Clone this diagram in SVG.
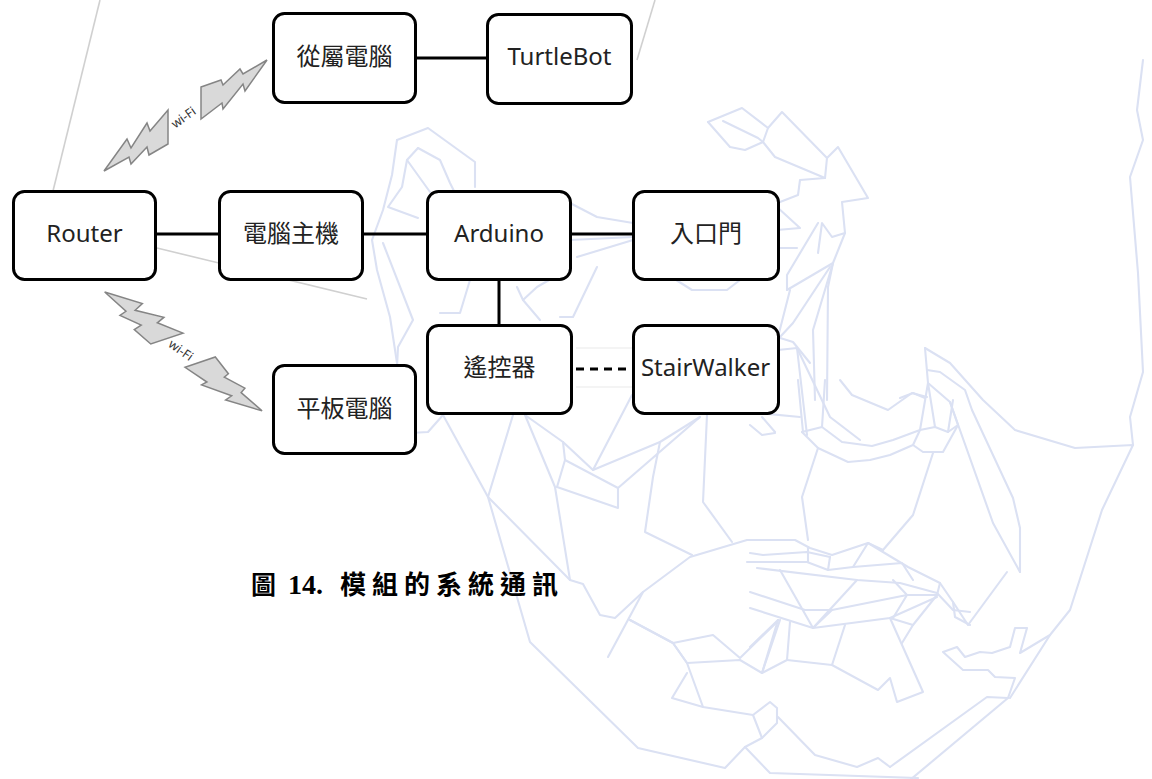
<svg xmlns="http://www.w3.org/2000/svg" xmlns:xlink="http://www.w3.org/1999/xlink" width="1152" height="779" viewBox="0 0 1152 779">
  <style>
    .wm { fill: none; stroke: #dbe1f3; stroke-width: 2.1; stroke-linejoin: round; stroke-linecap: round; }
    .gl { fill: none; stroke: #d0d0d0; stroke-width: 1.6; }
    .node rect { fill: #ffffff; stroke: #000000; stroke-width: 3; }
    .node text { font-family: "Noto Sans", "Noto Sans CJK TC", sans-serif; font-size: 24px; fill: #222222; text-anchor: middle; }
    .link { stroke: #000000; stroke-width: 3; fill: none; }
    .bolt { fill: #d9d9d9; stroke: #858585; stroke-width: 1.5; stroke-linejoin: miter; }
    .wifi { font-family: "Noto Sans", sans-serif; font-size: 12.5px; fill: #333333; text-anchor: middle; }
    .cap { font-weight: bold; fill: #000000; }
  </style>
  <defs>
    <!-- two-part lightning link with label, drawn along the upper route -->
    <g id="wifi-link">
      <path class="bolt" d="M104,171 L127,139 L131,148 L147,123 L150,131 L168,110 L168,144 L149,155 L147,147 L131,164 L129,157 Z"/>
      <path class="bolt" d="M201,87 L221,80 L223,85 L240,69 L243,74 L267,60 L245,91 L243,84 L223,109 L222,103 L201,119 Z"/>
      <text class="wifi" transform="translate(186,121) rotate(-36)">wi-Fi</text>
    </g>
  </defs>

  <rect width="1152" height="779" fill="#ffffff"/>

  <!-- low-poly face in the background -->
  <g id="background-face" class="wm">
    <polyline points="397,140 428,128 475,162 475,187"/>
    <polyline points="397,140 392,175 383,210 372,240 377,270 390,317 397,363"/>
    <polyline points="418,148 407,160 402,187 388,207 418,218"/>
    <polyline points="418,148 440,160 450,183 455,193"/>
    <polyline points="407,160 430,192"/>
    <polyline points="383,243 413,320 398,347 397,367"/>
    <polyline points="470,280 460,313 440,313"/>
    <polyline points="570,203 597,217 633,223"/>
    <polyline points="570,240 633,237"/>
    <polyline points="577,257 633,240"/>
    <polyline points="517,287 523,300 537,287 570,268"/>
    <polyline points="523,300 540,320"/>
    <polyline points="560,317 573,317 597,267"/>
    <polyline points="673,278 692,290 727,290 740,280"/>
    <polyline points="708,122 742,108 768,128"/>
    <polyline points="708,122 730,147 745,150 763,142 768,128 782,112 827,158"/>
    <polyline points="723,121 758,138 763,142"/>
    <polyline points="763,142 775,157 825,178 800,180 798,195 780,202"/>
    <polyline points="825,178 827,158 838,147 868,198 842,202 845,233 832,237 822,223 818,253"/>
    <polyline points="777,207 800,228 777,230"/>
    <polyline points="777,248 797,248"/>
    <polyline points="787,290 833,263"/>
    <polyline points="787,290 787,275 818,223"/>
    <polyline points="845,233 833,263 828,287 827,400"/>
    <polyline points="833,263 813,330 815,400"/>
    <polyline points="780,337 793,323 830,267"/>
    <polyline points="790,290 778,337"/>
    <polyline points="778,350 797,348 807,435"/>
    <polyline points="797,348 830,417 860,440"/>
    <polyline points="777,337 793,342 810,363"/>
    <polyline points="1143,60 1137,110 1143,140 1130,177 1138,273 1143,372 1130,417 1133,445"/>
    <polyline points="925,348 950,363 983,400 1015,430 1075,448 1133,445 1102,510 1070,610 1050,635 1010,698"/>
    <polyline points="927,370 940,372 965,390 972,410 1013,498 1020,528 1020,572"/>
    <polyline points="925,348 928,383 950,402 993,523 1020,572"/>
    <polyline points="900,398 913,393 925,398"/>
    <polyline points="410,433 428,432 443,415 488,497"/>
    <polyline points="513,415 488,497"/>
    <polyline points="488,497 530,642 638,748 725,768 745,747 762,738 777,723 777,708 770,702 753,715 703,707 687,663 673,643 630,620"/>
    <polyline points="753,715 762,738"/>
    <polyline points="488,497 570,580 583,584 600,615 615,618 643,592 690,557 747,540 795,540 810,548 832,555 868,543 883,550"/>
    <polyline points="525,415 555,487 570,580"/>
    <polyline points="525,415 563,442 565,460 557,487"/>
    <polyline points="557,487 618,508 618,488 700,417"/>
    <polyline points="563,442 593,470 660,442 700,417"/>
    <polyline points="593,470 632,395"/>
    <polyline points="565,460 618,488"/>
    <polyline points="707,415 703,502 732,542"/>
    <polyline points="660,442 653,477 645,532 692,555"/>
    <polyline points="643,592 608,657"/>
    <polyline points="630,620 673,643 713,635 740,658 777,622"/>
    <polyline points="673,643 687,663 740,660 762,673 780,620"/>
    <polyline points="687,673 672,698 703,707"/>
    <polyline points="750,425 762,435 775,433"/>
    <polyline points="762,417 775,432"/>
    <polyline points="798,380 803,432"/>
    <polyline points="825,380 822,427"/>
    <polyline points="747,412 800,417"/>
    <polyline points="802,432 818,448 848,462 870,460 890,455 913,445 920,430 928,383"/>
    <polyline points="802,432 822,427 842,442 872,446 893,440 920,430 935,427 948,432 958,425"/>
    <polyline points="913,445 923,452 943,452 958,425 950,402"/>
    <polyline points="935,427 928,383"/>
    <polyline points="948,432 953,400"/>
    <polyline points="840,380 852,395 888,410 912,393 927,397"/>
    <polyline points="818,448 802,497 808,540"/>
    <polyline points="933,453 913,515 883,550"/>
    <polyline points="750,553 763,555 807,552 830,557"/>
    <polyline points="808,547 808,562"/>
    <polyline points="830,557 828,570"/>
    <polyline points="747,562 807,562 828,570 853,567 902,563 913,580"/>
    <polyline points="868,543 853,567"/>
    <polyline points="868,543 908,567 940,583 953,602 968,625 1007,572"/>
    <polyline points="757,568 857,580 900,583 937,593 953,610 970,612"/>
    <polyline points="780,570 813,628 857,580"/>
    <polyline points="750,592 805,610 832,610 907,595 937,595"/>
    <polyline points="750,608 813,628 890,618 937,597"/>
    <polyline points="832,610 813,628"/>
    <polyline points="893,580 907,595 893,618"/>
    <polyline points="890,618 913,625 902,643"/>
    <polyline points="953,602 955,617 970,625"/>
    <polyline points="940,583 937,595 913,625"/>
    <polyline points="778,620 762,673 787,660 790,622"/>
    <polyline points="787,660 832,665 845,625"/>
    <polyline points="832,665 878,690 890,678 897,702 923,692 890,618"/>
    <polyline points="750,647 778,620"/>
    <polyline points="1050,635 1020,653 1027,628 1015,628 1010,647 992,653 980,652 965,657 957,647 943,652 963,670 988,670 995,677 1015,678 1008,698 987,697 890,767"/>
    <polyline points="1008,698 910,780"/>
    <polyline points="745,747 770,773 918,778"/>
    <polyline points="778,717 815,755 857,767 878,758 890,767"/>
  </g>

  <!-- thin grey strokes behind the boxes -->
  <g id="grey-strokes" class="gl">
    <line x1="100" y1="0" x2="53" y2="191"/>
    <line x1="157" y1="248" x2="367" y2="299"/>
    <line x1="655" y1="0" x2="637" y2="60"/>
    <line x1="576" y1="348" x2="633" y2="348" stroke="#f0f0f0"/>
    <line x1="576" y1="387" x2="633" y2="387" stroke="#f0f0f0"/>
  </g>

  <!-- wireless links -->
  <g id="wireless">
    <use xlink:href="#wifi-link"/>
    <use xlink:href="#wifi-link" transform="translate(105,293) rotate(71.3) translate(-105,-171)"/>
  </g>

  <!-- wired links -->
  <g id="connectors">
    <line class="link" x1="415" y1="58" x2="487" y2="58"/>
    <line class="link" x1="155" y1="234" x2="219" y2="234"/>
    <line class="link" x1="362" y1="234" x2="427" y2="234"/>
    <line class="link" x1="570" y1="234" x2="633" y2="234"/>
    <line class="link" x1="499" y1="279" x2="499" y2="325"/>
    <line class="link" x1="576" y1="369" x2="630" y2="369" stroke-dasharray="8,6"/>
  </g>

  <g id="node-slave-pc" class="node">
    <rect x="273.5" y="13.5" width="142" height="89" rx="11"/>
    <text x="344.5" y="65">從屬電腦</text>
  </g>
  <g id="node-turtlebot" class="node">
    <rect x="487.5" y="14.5" width="144" height="89" rx="11"/>
    <text x="559.5" y="65">TurtleBot</text>
  </g>
  <g id="node-router" class="node">
    <rect x="13.5" y="191.5" width="142" height="88" rx="11"/>
    <text x="84.5" y="242">Router</text>
  </g>
  <g id="node-host-pc" class="node">
    <rect x="219.5" y="191.5" width="143" height="88" rx="11"/>
    <text x="291" y="242">電腦主機</text>
  </g>
  <g id="node-arduino" class="node">
    <rect x="427.5" y="191.5" width="143" height="88" rx="11"/>
    <text x="499" y="242">Arduino</text>
  </g>
  <g id="node-gate" class="node">
    <rect x="633.5" y="191.5" width="145" height="88" rx="11"/>
    <text x="706" y="242">入口門</text>
  </g>
  <g id="node-remote" class="node">
    <rect x="427.5" y="325.5" width="144" height="88" rx="11"/>
    <text x="499.5" y="376">遙控器</text>
  </g>
  <g id="node-stairwalker" class="node">
    <rect x="633.5" y="325.5" width="145" height="88" rx="11"/>
    <text x="705.5" y="376">StairWalker</text>
  </g>
  <g id="node-tablet" class="node">
    <rect x="273.5" y="365.5" width="142" height="88" rx="11"/>
    <text x="344.5" y="417">平板電腦</text>
  </g>

  <!-- figure caption -->
  <g id="caption" class="cap">
    <text x="251" y="594" font-family="'Noto Sans CJK TC', sans-serif" font-size="25">圖</text>
    <text x="288" y="594" font-family="'Liberation Serif', serif" font-size="28">14.</text>
    <text x="340" y="594" font-family="'Noto Sans CJK TC', sans-serif" font-size="26" letter-spacing="6">模組的系統通訊</text>
  </g>
</svg>
